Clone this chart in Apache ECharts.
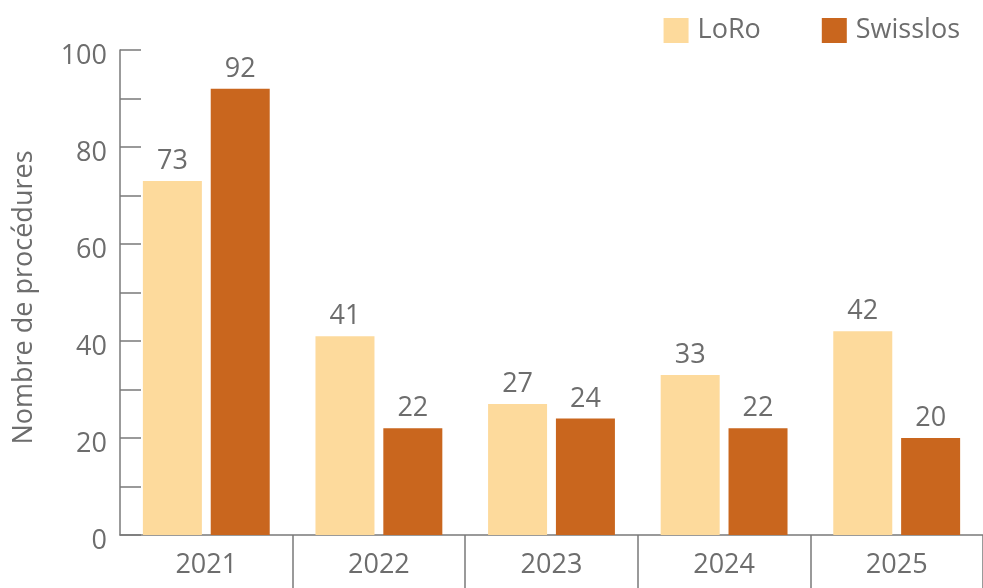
<!DOCTYPE html>
<html>
<head>
<meta charset="utf-8">
<script src="https://cdn.jsdelivr.net/npm/echarts@6/dist/echarts.min.js"></script>
<style>
	html, body { margin: 0; padding: 0; background: #fff; }
	#chart { width: 983px; height: 588px; }
</style>
</head>
<body>
<div id="chart"></div>
<script>
// data
var years = ['2021', '2022', '2023', '2024', '2025'];
var loro = [73, 41, 27, 33, 42];
var swisslos = [92, 22, 24, 22, 20];
var yTicks = [0, 20, 40, 60, 80, 100];

var grey = '#6d6d6d';
var lineGrey = '#7a7a7a';
var font = '"Open Sans", sans-serif';
var fs = 27;

var myChart = echarts.init(document.getElementById('chart'));

function barLabel() {
	return {
		show: true,
		position: 'top',
		distance: 6,
		color: grey,
		fontSize: fs,
		fontFamily: font
	};
}

myChart.setOption({
	animation: false,
	textStyle: { fontFamily: font },
	legend: {
		top: 12,
		right: 18,
		itemWidth: 25,
		itemHeight: 25,
		itemGap: 61,
		icon: 'rect',
		textStyle: { color: grey, fontSize: fs, fontFamily: font, padding: [0, 0, 0, 4] },
		data: ['LoRo', 'Swisslos']
	},
	grid: {
		left: 120,
		right: -2,
		top: 50,
		bottom: 53,
		containLabel: false
	},
	xAxis: {
		type: 'category',
		data: years,
		axisLine: { lineStyle: { color: lineGrey, width: 1.5 } },
		axisTick: {
			show: true,
			length: 55,
			interval: function (i) { return i > 0; },
			lineStyle: { color: lineGrey, width: 1.5 }
		},
		axisLabel: {
			color: grey,
			fontSize: fs,
			fontFamily: font,
			margin: 17
		}
	},
	yAxis: {
		type: 'value',
		min: 0,
		max: 100,
		interval: 10,
		name: 'Nombre de procédures',
		nameLocation: 'middle',
		nameGap: 82,
		nameTextStyle: { color: grey, fontSize: fs, fontFamily: font, padding: [0, 10, 0, 0] },
		axisLine: { show: true, lineStyle: { color: lineGrey, width: 1.5 } },
		axisTick: {
			show: true,
			inside: true,
			length: 21,
			lineStyle: { color: lineGrey, width: 1.5 }
		},
		splitLine: { show: false },
		axisLabel: {
			color: grey,
			fontSize: fs,
			fontFamily: font,
			margin: 13,
			verticalAlign: 'top',
			lineHeight: 12,
			formatter: function (v) {
				return yTicks.indexOf(v) >= 0 ? String(v) : '';
			}
		}
	},
	series: [
		{
			name: 'LoRo',
			type: 'bar',
			data: loro,
			barWidth: 59,
			barGap: '15%',
			itemStyle: { color: '#fdda9c' },
			label: barLabel()
		},
		{
			name: 'Swisslos',
			type: 'bar',
			data: swisslos,
			barWidth: 59,
			itemStyle: { color: '#c9661e' },
			label: barLabel()
		}
	]
});
</script>
</body>
</html>
